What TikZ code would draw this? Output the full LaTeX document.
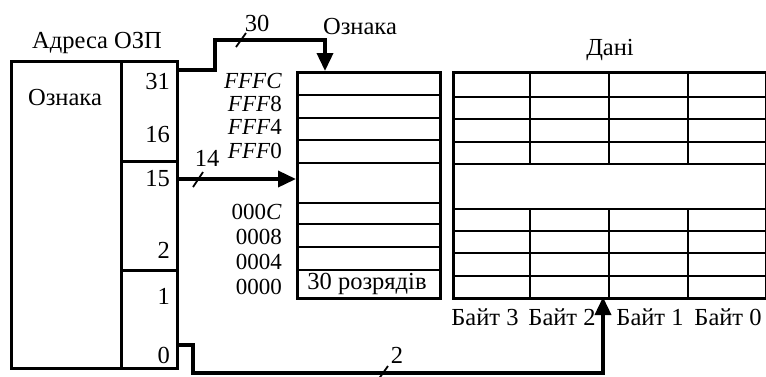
\documentclass[tikz,border=0pt]{standalone}
\usepackage{fontspec}
\setmainfont{Liberation Serif}
\usetikzlibrary{positioning, arrows.meta, calc}

\begin{document}
\begin{tikzpicture}[
    x=1pt, y=-1pt,
    field/.style={rectangle, draw, line width=3pt, anchor=north west, inner sep=0pt},
    lbl/.style={inner sep=0pt, font=\fontsize{24.5}{27}\selectfont},
    num/.style={lbl, anchor=east},
    addr/.style={num, font=\fontsize{23}{25}\selectfont, text height=15pt, text depth=2pt},
    grid/.style={line width=2.5pt},
    wire/.style={line width=3.6pt},
    arr/.style={wire, -{Triangle[length=18pt, width=16pt]}},
]
\useasboundingbox (0,0) rectangle (766,376);

% --- Address register ---
\node[field, minimum width=110pt, minimum height=307pt] (tagfld) at (10,60) {};
\node[field, minimum width=56pt, minimum height=100pt] (hibits) at (120,60) {};
\node[field, minimum width=56pt, minimum height=109pt] (idxbits) at (120,160) {};
\node[field, minimum width=56pt, minimum height=98pt] (offbits) at (120,269) {};
\node[lbl] (addrtitle) at (97,43) {Адреса ОЗП};
\node[lbl] (tagname) at (65,98) {Ознака};
\node[num] (b31) at (170,82) {31};
\node[num] (b16) at (170,135) {16};
\node[num] (b15) at (170,179) {15};
\node[num] (b2) at (170,250) {2};
\node[num] (b1) at (170,296) {1};
\node[num] (b0) at (170,355) {0};

% --- Tag memory ---
\node[field, minimum width=143pt, minimum height=226pt] (tagmem) at (296,71) {};
\foreach \y in {95,118,140,163,203,224,247,270}
  \draw[grid] (tagmem.west |- 0,\y) -- (tagmem.east |- 0,\y);
\node[lbl] (tagtitle) at (360,27) {Ознака};
\node[lbl] (width) at (367,284) {30 розрядів};
\node[addr] (aFFFC) at (282,82) {\textit{FFFC}};
\node[addr] (aFFF8) at (282,105) {\textit{FFF}8};
\node[addr] (aFFF4) at (282,128) {\textit{FFF}4};
\node[addr] (aFFF0) at (282,152) {\textit{FFF}0};
\node[addr] (a000C) at (282,213) {000\textit{C}};
\node[addr] (a0008) at (282,238) {0008};
\node[addr] (a0004) at (282,263) {0004};
\node[addr] (a0000) at (282,288) {0000};

% --- Data memory ---
\node[field, minimum width=313pt, minimum height=226pt] (datamem) at (452,71) {};
\foreach \y in {97,119,142,164,209,231,253,276}
  \draw[grid] (datamem.west |- 0,\y) -- (datamem.east |- 0,\y);
\foreach \x in {530,609,688} {
  \draw[grid] (\x,71) -- (\x,164);
  \draw[grid] (\x,209) -- (\x,297);
}
\node[lbl] (datatitle) at (610,50) {Дані};
\node[lbl] (byte3) at (485,317) {Байт 3};
\node[lbl] (byte2) at (562,317) {Байт 2};
\node[lbl] (byte1) at (650,317) {Байт 1};
\node[lbl] (byte0) at (728,317) {Байт 0};

% --- Wires ---
\coordinate (tagin) at (325,71);
\coordinate (offtap) at (176,345);
\coordinate (datain) at (603,297);
\draw[arr] (hibits.east |- 0,70) -- ++(36,0) -- ++(0,-30) -| (tagin);
\draw[arr] (b15 -| idxbits.east) -- (b15 -| tagmem.west);
\draw[arr] (offtap) -- ++(17,0) -- ++(0,28) -| (datain);

% --- Bus widths ---
\draw[wire, line width=1.8pt] (236,47) -- ++(10,-14);
\node[lbl] (w30) at (257,23) {30};
\draw[wire, line width=1.8pt] (193,187) -- ++(10,-15);
\node[lbl] (w14) at (207,158) {14};
\draw[wire, line width=1.8pt] (378,380) -- ++(10,-14);
\node[lbl] (w2) at (397,355) {2};
\end{tikzpicture}
\end{document}
